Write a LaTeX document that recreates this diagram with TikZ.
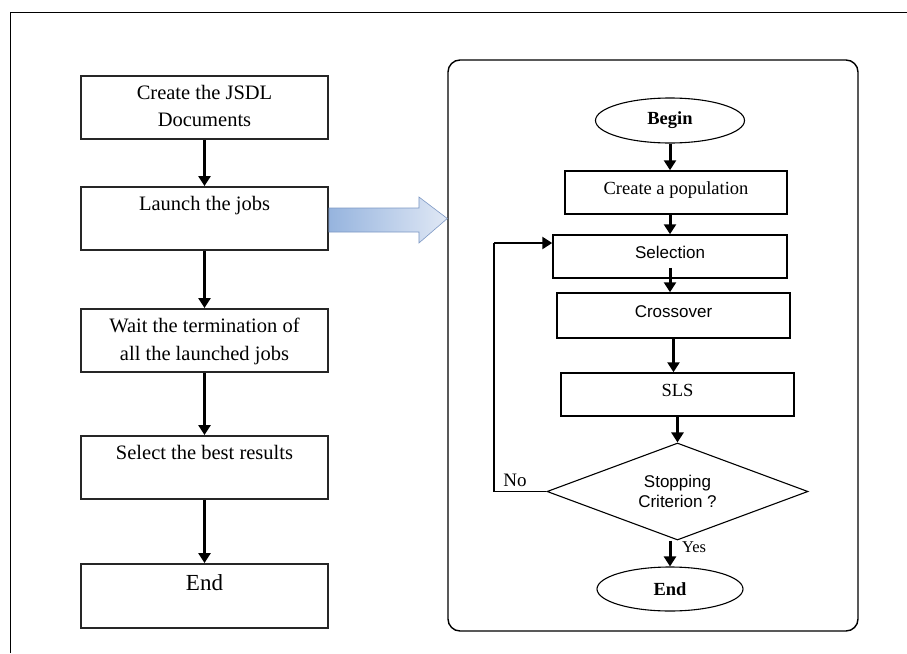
\documentclass[tikz,border=0pt]{standalone}
\usepackage{fontspec}
\setmainfont{Liberation Serif}
\newfontfamily\sansf{Liberation Sans}
\usetikzlibrary{arrows.meta,shapes.geometric,calc}
\definecolor{arrowdark}{RGB}{150,180,222}
\definecolor{arrowlight}{RGB}{224,232,245}
\definecolor{arrowedge}{RGB}{125,152,196}
\begin{document}
\begin{tikzpicture}[x=1pt,y=-1pt,
  lbox/.style={draw=black!85,line width=1.9pt,minimum width=247pt,inner sep=0pt},
  ltext/.style={anchor=north,inner sep=0pt,align=center,font=\fontsize{20.5}{27.5}\selectfont},
  rbox/.style={draw=black,line width=1.5pt,inner sep=0pt,text height=12pt,text depth=8pt},
  sanstext/.style={font=\sansf\fontsize{17}{20}\selectfont},
  seriftext/.style={font=\fontsize{18.5}{21}\selectfont},
  oval/.style={draw=black,line width=1.1pt,ellipse,inner sep=0pt,font=\bfseries\fontsize{18.5}{21}\selectfont},
  flow/.style={-{Triangle[width=12pt,length=10pt]},line width=3pt},
]
\useasboundingbox (0,0) rectangle (907,653);

% outer frame (top and left edges)
\draw[line width=1.8pt] (10.5,653) -- (10.5,12.5) -- (907,12.5);

% ---------- left column: the job workflow ----------
\node[lbox,minimum height=63pt] (b1) at (204.5,107.5) {};
\node[ltext] (t1) at ([yshift=-10pt]b1.north) {Create the JSDL\\Documents};
\node[lbox,minimum height=63pt] (b2) at (204.5,218.5) {};
\node[ltext] (t2) at ([yshift=-10pt]b2.north) {Launch the jobs};
\node[lbox,minimum height=63pt] (b3) at (204.5,340.5) {};
\node[ltext] (t3) at ([yshift=-10pt]b3.north) {Wait the termination of\\all the launched jobs};
\node[lbox,minimum height=63pt] (b4) at (204.5,467.5) {};
\node[ltext] (t4) at ([yshift=-10pt]b4.north) {Select the best results};
\node[lbox,minimum height=64pt] (b5) at (204.5,596) {};
\node[ltext,font=\fontsize{23}{27}\selectfont] (t5) at ([yshift=-11.5pt]b5.north) {End};

\draw[flow] (b1.south) -- (b2.north);
\draw[flow] (b2.south) -- (b3.north);
\draw[flow] (b3.south) -- (b4.north);
\draw[flow] (b4.south) -- (b5.north);

% ---------- right panel: the genetic algorithm ----------
\node[draw=black,line width=1.4pt,rounded corners=12pt,minimum width=410pt,minimum height=571pt,inner sep=0pt] (panel) at (653,345.5) {};

% broad shaded arrow from the launch step to the panel
\draw[draw=arrowedge,line width=0.6pt,left color=arrowdark,right color=arrowlight]
  ($(b2.east)+(0,-10.5)$) -- ($(b2.east)+(90,-10.5)$) -- ($(b2.east)+(90,-21.5)$)
  -- (panel.west |- b2.east) -- ($(b2.east)+(90,24.5)$) -- ($(b2.east)+(90,13.5)$)
  -- ($(b2.east)+(0,13.5)$) -- cycle;

\node[oval,minimum width=149pt,minimum height=45pt] (begin) at (670,120.5) {Begin};
\node[rbox,seriftext,minimum width=222pt,minimum height=43pt] (pop) at (676,192.5) {Create a population};
\node[rbox,sanstext,minimum width=234pt,minimum height=43pt] (sel) at (670,256.5) {Selection};
\node[rbox,sanstext,minimum width=233pt,minimum height=45pt] (cross) at (673.5,315.5) {Crossover};
\node[rbox,seriftext,minimum width=233pt,minimum height=43pt] (sls) at (677.5,394.5) {SLS};
\node[draw=black,line width=1.1pt,diamond,aspect=2.69,inner sep=0pt,minimum width=261pt,minimum height=97pt,align=center,sanstext] (dia) at (677.5,491.5) {Stopping\\Criterion ?};
\node[oval,minimum width=146pt,minimum height=44pt] (endE) at (670,589) {End};

\draw[flow] (begin.south) -- (begin.south |- pop.north);
\draw[flow] (pop.south -| begin) -- (sel.north -| begin);
\draw[flow] ($(sel.south -| begin)+(0,-11)$) -- (cross.north -| begin);
\draw[flow] (cross.south) -- (cross.south |- sls.north);
\draw[flow] (sls.south) -- (dia.north);
\draw[flow] (dia.south -| endE) -- (endE.north);

% loop back when the criterion is not met
\coordinate (corner) at (494,243);
\draw[line width=1.6pt] (dia.west) -| (corner);
\draw[flow,line width=2.5pt] (corner) -- (corner -| sel.west);

\node[font=\fontsize{19}{21}\selectfont,inner sep=0pt] (no) at (515,480) {No};
\node[font=\fontsize{16.5}{19}\selectfont,inner sep=0pt] (yes) at (694,547) {Yes};
\end{tikzpicture}
\end{document}
